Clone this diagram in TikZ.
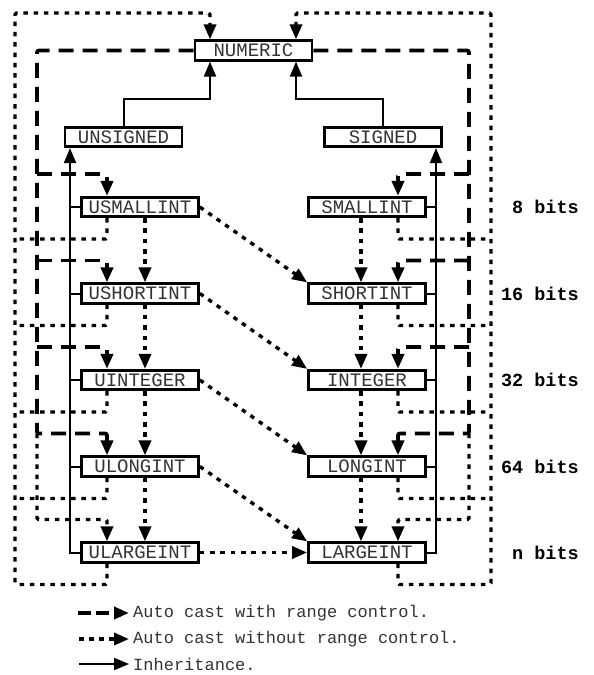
\documentclass[tikz,border=0pt]{standalone}
\usepackage{fontspec}
\setmonofont{Liberation Mono}
\usetikzlibrary{arrows.meta}
\begin{document}
\begin{tikzpicture}[x=1bp,y=-1bp,
  box/.style={draw, line width=2.7bp, minimum width=117bp, minimum height=19.5bp, inner sep=0pt, fill=white, text=black!80, font=\fontsize{19bp}{20bp}\selectfont\ttfamily},
  dsh/.style={line width=3.8bp, dash pattern=on 15bp off 9bp, rounded corners=2bp},
  dtt/.style={line width=3.4bp, dash pattern=on 4.5bp off 5.8bp, rounded corners=1.5bp},
  inh/.style={line width=2bp},
  tip/.style={-{Triangle[length=15bp,width=12bp]}},
  bits/.style={anchor=east, inner sep=0pt, font=\fontsize{18.5bp}{20bp}\selectfont\ttfamily\bfseries},
  leg/.style={anchor=west, inner sep=0pt, text=black!80, font=\fontsize{17bp}{18bp}\selectfont\ttfamily},
]
\useasboundingbox (0,0) rectangle (594,675);

% vertical line positions
\coordinate (Lin) at (107,0);
\coordinate (Ldn) at (145,0);
\coordinate (Lbus) at (70,0);
\coordinate (Rin) at (398,0);
\coordinate (Rdn) at (361,0);
\coordinate (Rbus) at (436,0);
\coordinate (nL) at (210,0);
\coordinate (nR) at (296,0);

% nodes
\node[box] (NUMERIC) at (253.5,50.5) {NUMERIC};
\node[box] (UNSIGNED) at (123.5,137) {UNSIGNED};
\node[box] (SIGNED) at (383,137) {SIGNED};

\node[box] (USMALLINT) at (140,207) {USMALLINT};
\node[box] (USHORTINT) at (140,293.5) {USHORTINT};
\node[box] (UINTEGER) at (140,380) {UINTEGER};
\node[box] (ULONGINT) at (140,466.5) {ULONGINT};
\node[box] (ULARGEINT) at (140,552.5) {ULARGEINT};

\node[box] (SMALLINT) at (367,207) {SMALLINT};
\node[box] (SHORTINT) at (367,293.5) {SHORTINT};
\node[box] (INTEGER) at (367,380) {INTEGER};
\node[box] (LONGINT) at (367,466.5) {LONGINT};
\node[box] (LARGEINT) at (367,552.5) {LARGEINT};

\node[bits] (b8) at (579,207) {8 bits};
\node[bits] (b16) at (579,293.5) {16 bits};
\node[bits] (b32) at (579,380) {32 bits};
\node[bits] (b64) at (579,466.5) {64 bits};
\node[bits] (bn) at (579,552.5) {n bits};

% ---------- left side ----------
% dotted: to NUMERIC (outer loop)
\draw[dtt,tip] (ULARGEINT.south -| Lin) -- (107,584.5) -- (15,584.5) -- (15,13) -- (210,13) -- (NUMERIC.north -| nL);
\foreach \n/\yy in {USMALLINT/239, USHORTINT/325.5, UINTEGER/412, ULONGINT/498.5}{
  \coordinate (dl\n) at (15,\yy);
  \draw[dtt] (\n.south -| Lin) |- (dl\n);
}
% dashed: from NUMERIC
\draw[dsh,tip] (NUMERIC.west) -- (37,50.5) -- (37,433.5) -- (107,433.5) -- (ULONGINT.north -| Lin);
\foreach \n/\yy in {USMALLINT/174, USHORTINT/260.5, UINTEGER/347}{
  \coordinate (ql\n) at (37,\yy);
  \draw[dsh,tip] (ql\n) -| (\n.north -| Lin);
}
\coordinate (qlL) at (37,433.5);
\draw[dtt,tip] (qlL) -- (37,519.5) -- (107,519.5) -- (ULARGEINT.north -| Lin);
% dotted: down the column
\draw[dtt,tip] (USMALLINT.south -| Ldn) -- (USHORTINT.north -| Ldn);
\draw[dtt,tip] (USHORTINT.south -| Ldn) -- (UINTEGER.north -| Ldn);
\draw[dtt,tip] (UINTEGER.south -| Ldn) -- (ULONGINT.north -| Ldn);
\draw[dtt,tip] (ULONGINT.south -| Ldn) -- (ULARGEINT.north -| Ldn);
% inheritance
\draw[inh,tip] (ULARGEINT.west) -| (UNSIGNED.south -| Lbus);
\foreach \n in {USMALLINT, USHORTINT, UINTEGER, ULONGINT}{
  \draw[inh] (\n.west) -- (\n.west -| Lbus);
}
\draw[inh,tip] (UNSIGNED.north) -- (123.5,99) -- (210,99) -- (NUMERIC.south -| nL);

% ---------- right side ----------
\draw[dtt,tip] (LARGEINT.south -| Rin) -- (398,584.5) -- (491,584.5) -- (491,13) -- (296,13) -- (NUMERIC.north -| nR);
\foreach \n/\yy in {SMALLINT/239, SHORTINT/325.5, INTEGER/412, LONGINT/498.5}{
  \coordinate (dr\n) at (491,\yy);
  \draw[dtt] (\n.south -| Rin) |- (dr\n);
}
\draw[dsh,tip] (NUMERIC.east) -- (469,50.5) -- (469,433.5) -- (398,433.5) -- (LONGINT.north -| Rin);
\foreach \n/\yy in {SMALLINT/174, SHORTINT/260.5, INTEGER/347}{
  \coordinate (qr\n) at (469,\yy);
  \draw[dsh,tip] (qr\n) -| (\n.north -| Rin);
}
\coordinate (qrL) at (469,433.5);
\draw[dtt,tip] (qrL) -- (469,519.5) -- (398,519.5) -- (LARGEINT.north -| Rin);
\draw[dtt,tip] (SMALLINT.south -| Rdn) -- (SHORTINT.north -| Rdn);
\draw[dtt,tip] (SHORTINT.south -| Rdn) -- (INTEGER.north -| Rdn);
\draw[dtt,tip] (INTEGER.south -| Rdn) -- (LONGINT.north -| Rdn);
\draw[dtt,tip] (LONGINT.south -| Rdn) -- (LARGEINT.north -| Rdn);
\draw[inh,tip] (LARGEINT.east) -| (SIGNED.south -| Rbus);
\foreach \n in {SMALLINT, SHORTINT, INTEGER, LONGINT}{
  \draw[inh] (\n.east) -- (\n.east -| Rbus);
}
\draw[inh,tip] (SIGNED.north) -- (383,99) -- (296,99) -- (NUMERIC.south -| nR);

% ---------- diagonals ----------
\draw[dtt,tip] (USMALLINT.east) -- (SHORTINT.north west);
\draw[dtt,tip] (USHORTINT.east) -- (INTEGER.north west);
\draw[dtt,tip] (UINTEGER.east) -- (LONGINT.north west);
\draw[dtt,tip] (ULONGINT.east) -- (LARGEINT.north west);
\draw[dtt,tip] (ULARGEINT.east) -- (LARGEINT.west);

% ---------- legend ----------
\coordinate (la1) at (78,613);
\coordinate (lb1) at (129,613);
\coordinate (la2) at (79,639);
\coordinate (lb2) at (129,639);
\coordinate (la3) at (79,664);
\coordinate (lb3) at (129,664);
\draw[line width=3.8bp, dash pattern=on 13bp off 5bp, tip] (la1) -- (lb1);
\draw[line width=3.4bp, dash pattern=on 5bp off 5bp, tip] (la2) -- (lb2);
\draw[inh, tip] (la3) -- (lb3);
\node[leg] (t1) at (133,613) {Auto cast with range control.};
\node[leg] (t2) at (133,639) {Auto cast without range control.};
\node[leg] (t3) at (133,664) {Inheritance.};
\end{tikzpicture}
\end{document}
